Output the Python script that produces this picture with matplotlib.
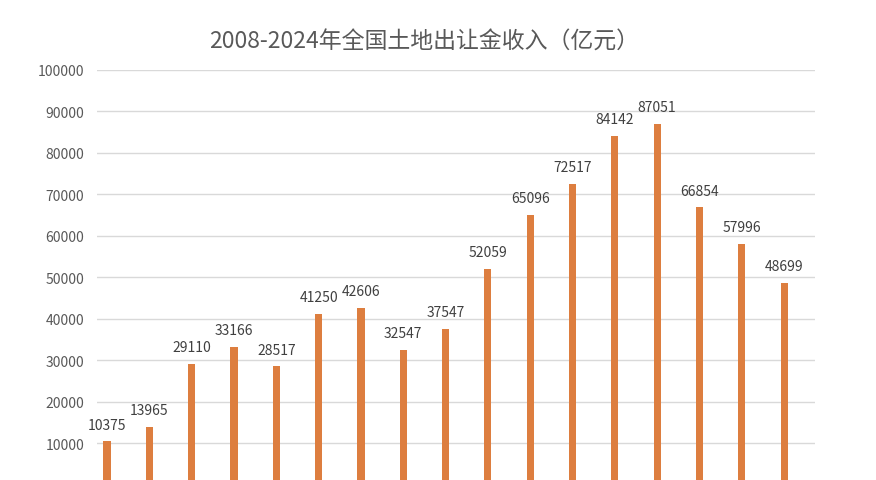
import matplotlib
matplotlib.use('Agg')
import matplotlib.pyplot as plt

plt.rcParams['font.family'] = ['Noto Sans CJK SC', 'DejaVu Sans']

# data
years = [str(y) for y in range(2008, 2025)]
income = [10375, 13965, 29110, 33166, 28517, 41250, 42606, 32547, 37547,
          52059, 65096, 72517, 84142, 87051, 66854, 57996, 48699]
yticks = list(range(0, 100001, 10000))

W, H = 876, 481
fig = plt.figure(figsize=(W / 100, H / 100), dpi=100)
fig.patch.set_facecolor('white')

# axes placed so the bottom of the plot is cut off like the reference
ax = fig.add_axes([97 / W, (H - 485.5) / H, (815 - 97) / W, (485.5 - 71) / H])
pos = list(range(len(years)))
ax.bar(pos, income, width=0.17, color='#DD7E3F', zorder=3)

for x, v in zip(pos, income):
    ax.annotate(str(v), (x, v), xytext=(0, 7), textcoords='offset points',
                ha='center', va='bottom', fontsize=10, color='#404040',
                fontweight='light')

ax.set_xlim(-0.236, 16.73)
ax.set_ylim(0, 100000)
ax.set_yticks(yticks)
ax.set_yticklabels([str(t) for t in yticks], fontweight='light')
ax.set_xticks([])
ax.tick_params(axis='y', length=0, pad=9, labelsize=10, labelcolor='#595959')
ax.grid(axis='y', color='#D9D9D9', linewidth=1, zorder=0)
for s in ax.spines.values():
    s.set_visible(False)

fig.text(0.484, (H - 42) / H, '2008-2024年全国土地出让金收入（亿元）',
         ha='center', va='center', fontsize=16.5, color='#595959',
         fontweight='light')

fig.savefig('out.png', dpi=100)
